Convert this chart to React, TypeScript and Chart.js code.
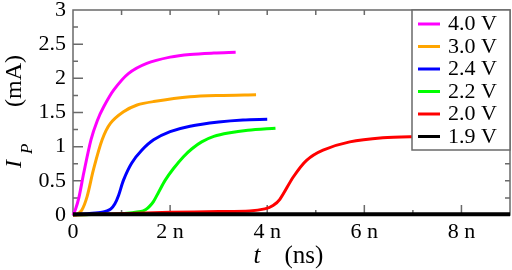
import React, { useEffect, useRef } from "react";
import { Chart, registerables } from "chart.js";

Chart.register(...registerables);

// ---- data (t in ns, I in mA) ----
const seriesLabels = ["4.0 V", "3.0 V", "2.4 V", "2.2 V", "2.0 V", "1.9 V"];
const seriesColors = ["#ff00ff", "#ffa500", "#0000ff", "#00ff00", "#ff0000", "#000000"];

const t40 = [0, 0.05, 0.12, 0.22, 0.37, 0.5, 0.63, 0.84, 1.14, 1.52, 2.0, 2.41, 2.9, 3.35];
const i40 = [0, 0.08, 0.25, 0.61, 1.1, 1.38, 1.58, 1.83, 2.07, 2.22, 2.31, 2.35, 2.37, 2.38];

const t30 = [0, 0.08, 0.18, 0.29, 0.42, 0.6, 0.77, 1.04, 1.32, 1.66, 2.41, 3.0, 3.77];
const i30 = [0, 0.01, 0.07, 0.27, 0.66, 1.1, 1.34, 1.51, 1.61, 1.66, 1.73, 1.75, 1.76];

const t24 = [0, 0.3, 0.6, 0.7, 0.78, 0.86, 0.94, 1.04, 1.21, 1.42, 1.66, 2.0, 2.41, 3.0, 3.5, 4.0];
const i24 = [0, 0.02, 0.04, 0.06, 0.09, 0.16, 0.29, 0.51, 0.76, 0.95, 1.1, 1.22, 1.3, 1.36, 1.39, 1.4];

const t22 = [0, 0.5, 1.0, 1.4, 1.5, 1.58, 1.66, 1.76, 1.9, 2.07, 2.27, 2.45, 2.65, 2.9, 3.2, 3.6, 4.17];
const i22 = [0, 0.01, 0.02, 0.05, 0.08, 0.13, 0.2, 0.33, 0.51, 0.68, 0.85, 0.97, 1.07, 1.15, 1.2, 1.24, 1.27];

const t20 = [0, 1, 2, 3, 3.64, 3.95, 4.12, 4.26, 4.54, 4.81, 5.15, 5.7, 6.38, 6.98, 8.0, 9.0];
const i20 = [0, 0.02, 0.04, 0.05, 0.06, 0.09, 0.14, 0.23, 0.56, 0.8, 0.95, 1.07, 1.13, 1.145, 1.15, 1.15];

const t19 = [0, 9];
const i19 = [0.01, 0.01];

const xTickValues = [0, 2, 4, 6, 8];
const xTickLabels = ["0", "2 n", "4 n", "6 n", "8 n"];
const yTickLabels = ["0", "0.5", "1", "1.5", "2", "2.5", "3"];

const seriesT = [t40, t30, t24, t22, t20, t19];
const seriesI = [i40, i30, i24, i22, i20, i19];

const FONT = '"Liberation Serif", "Times New Roman", Times, serif';
const FRAME = "#6a6a6a";

const decorPlugin = {
  id: "decor",
  beforeDatasetsDraw(chart: any) {
    const { ctx, chartArea: a, scales } = chart;
    const xs = scales.x;
    const ys = scales.y;
    ctx.save();
    ctx.strokeStyle = FRAME;
    ctx.lineWidth = 1.5;
    ctx.strokeRect(a.left, a.top, a.right - a.left, a.bottom - a.top);
    ctx.beginPath();
    for (let v = 1; v < 9; v += 1) {
      const x = xs.getPixelForValue(v);
      const major = v % 2 === 0;
      ctx.moveTo(x, a.bottom);
      ctx.lineTo(x, a.bottom - (major ? 10 : 5));
      ctx.moveTo(x, a.top);
      ctx.lineTo(x, a.top + 5);
    }
    for (let k = 1; k < 12; k++) {
      const y = ys.getPixelForValue(k * 0.25);
      const major = k % 2 === 0;
      ctx.moveTo(a.left, y);
      ctx.lineTo(a.left + (major ? 10 : 5), y);
      ctx.moveTo(a.right, y);
      ctx.lineTo(a.right - 5, y);
    }
    ctx.stroke();
    ctx.restore();
  },
  afterDraw(chart: any) {
    const { ctx, chartArea: a } = chart;
    ctx.save();
    // legend
    const lx = 412;
    const ly = a.top;
    const lw = a.right - lx;
    const lh = 140;
    ctx.fillStyle = "#ffffff";
    ctx.fillRect(lx, ly, lw, lh);
    ctx.strokeStyle = FRAME;
    ctx.lineWidth = 1.5;
    ctx.strokeRect(lx, ly, lw, lh);
    ctx.font = `22px ${FONT}`;
    ctx.textBaseline = "middle";
    ctx.textAlign = "left";
    seriesLabels.forEach((lab, i) => {
      const y = ly + 14 + i * 22.5;
      ctx.strokeStyle = seriesColors[i];
      ctx.lineWidth = 3;
      ctx.beginPath();
      ctx.moveTo(lx + 6, y);
      ctx.lineTo(lx + 28, y);
      ctx.stroke();
      ctx.fillStyle = "#000";
      ctx.fillText(lab, lx + 36, y + 0.5);
    });

    // x title
    const cx = (a.left + a.right) / 2;
    ctx.fillStyle = "#000";
    ctx.textBaseline = "alphabetic";
    ctx.font = `italic 25px ${FONT}`;
    ctx.fillText("t", cx - 38, 263);
    ctx.font = `25px ${FONT}`;
    ctx.fillText("(ns)", cx - 7, 263);

    // y title (rotated)
    ctx.translate(21, 168);
    ctx.rotate(-Math.PI / 2);
    ctx.font = `italic 24px ${FONT}`;
    ctx.fillText("I", 0, 0);
    ctx.font = `italic 17px ${FONT}`;
    ctx.fillText("P", 14, 11);
    ctx.font = `24px ${FONT}`;
    ctx.fillText("(mA)", 61, 0);
    ctx.restore();
  },
};

export default function App() {
  const ref = useRef<HTMLCanvasElement | null>(null);
  useEffect(() => {
    document.body.style.margin = "0";
    if (!ref.current) return;
    const datasets = seriesLabels.map((lab, i) => ({
      label: lab,
      data: seriesT[i].map((t, j) => ({ x: t, y: seriesI[i][j] })),
      borderColor: seriesColors[i],
      backgroundColor: seriesColors[i],
      borderWidth: i === 5 ? 4 : 3,
      pointRadius: 0,
      fill: false,
      tension: 0.3,
      clip: false as any,
      order: seriesLabels.length - i,
    }));
    const chart = new Chart(ref.current, {
      type: "line",
      data: { datasets },
      plugins: [decorPlugin],
      options: {
        animation: false,
        responsive: false,
        maintainAspectRatio: false,
        devicePixelRatio: 1,
        layout: { padding: { top: 10, right: 2, left: 0, bottom: 0 } },
        plugins: { legend: { display: false }, tooltip: { enabled: false } },
        scales: {
          x: {
            type: "linear",
            min: 0,
            max: 9,
            afterFit: (s: any) => {
              s.height = 55;
              s.paddingLeft = 0;
              s.paddingRight = 0;
            },
            afterBuildTicks: (s: any) => {
              s.ticks = xTickValues.map((v) => ({ value: v }));
            },
            grid: { display: false, drawTicks: false },
            border: { display: false },
            ticks: {
              autoSkip: false,
              maxRotation: 0,
              padding: 4,
              color: "#000",
              font: { family: FONT, size: 22 },
              callback: (v: any) => {
                const idx = xTickValues.indexOf(Number(v));
                return idx >= 0 ? xTickLabels[idx] : "";
              },
            },
          },
          y: {
            type: "linear",
            min: 0,
            max: 3,
            afterFit: (s: any) => {
              s.width = 73;
              s.paddingTop = 0;
              s.paddingBottom = 0;
            },
            grid: { display: false, drawTicks: false },
            border: { display: false },
            ticks: {
              stepSize: 0.5,
              autoSkip: false,
              padding: 7,
              color: "#000",
              font: { family: FONT, size: 22 },
              callback: (v: any) => {
                const idx = Math.round(Number(v) / 0.5);
                return yTickLabels[idx] ?? "";
              },
            },
          },
        },
      },
    });
    let alive = true;
    const redraw = () => {
      if (alive) chart.update();
    };
    const fonts = (document as any).fonts;
    if (fonts) {
      Promise.all([
        fonts.load(`22px "Liberation Serif"`),
        fonts.load(`italic 22px "Liberation Serif"`),
      ])
        .catch(() => undefined)
        .then(redraw);
      fonts.ready.then(redraw);
    }
    const timers = [30, 150, 500].map((ms) => setTimeout(redraw, ms));
    return () => {
      alive = false;
      timers.forEach(clearTimeout);
      chart.destroy();
    };
  }, []);
  return (
    <div style={{ width: 512, height: 270, position: "relative" }}>
      <div
        aria-hidden="true"
        style={{
          position: "absolute",
          left: 100,
          top: 100,
          color: "transparent",
          fontFamily: '"Liberation Serif"',
          fontSize: 22,
          whiteSpace: "nowrap",
          zIndex: 0,
        }}
      >
        0.5 V (mA) <i>t I P</i>
      </div>
      <canvas ref={ref} width={512} height={270} style={{ position: "relative", zIndex: 1 }} />
    </div>
  );
}
